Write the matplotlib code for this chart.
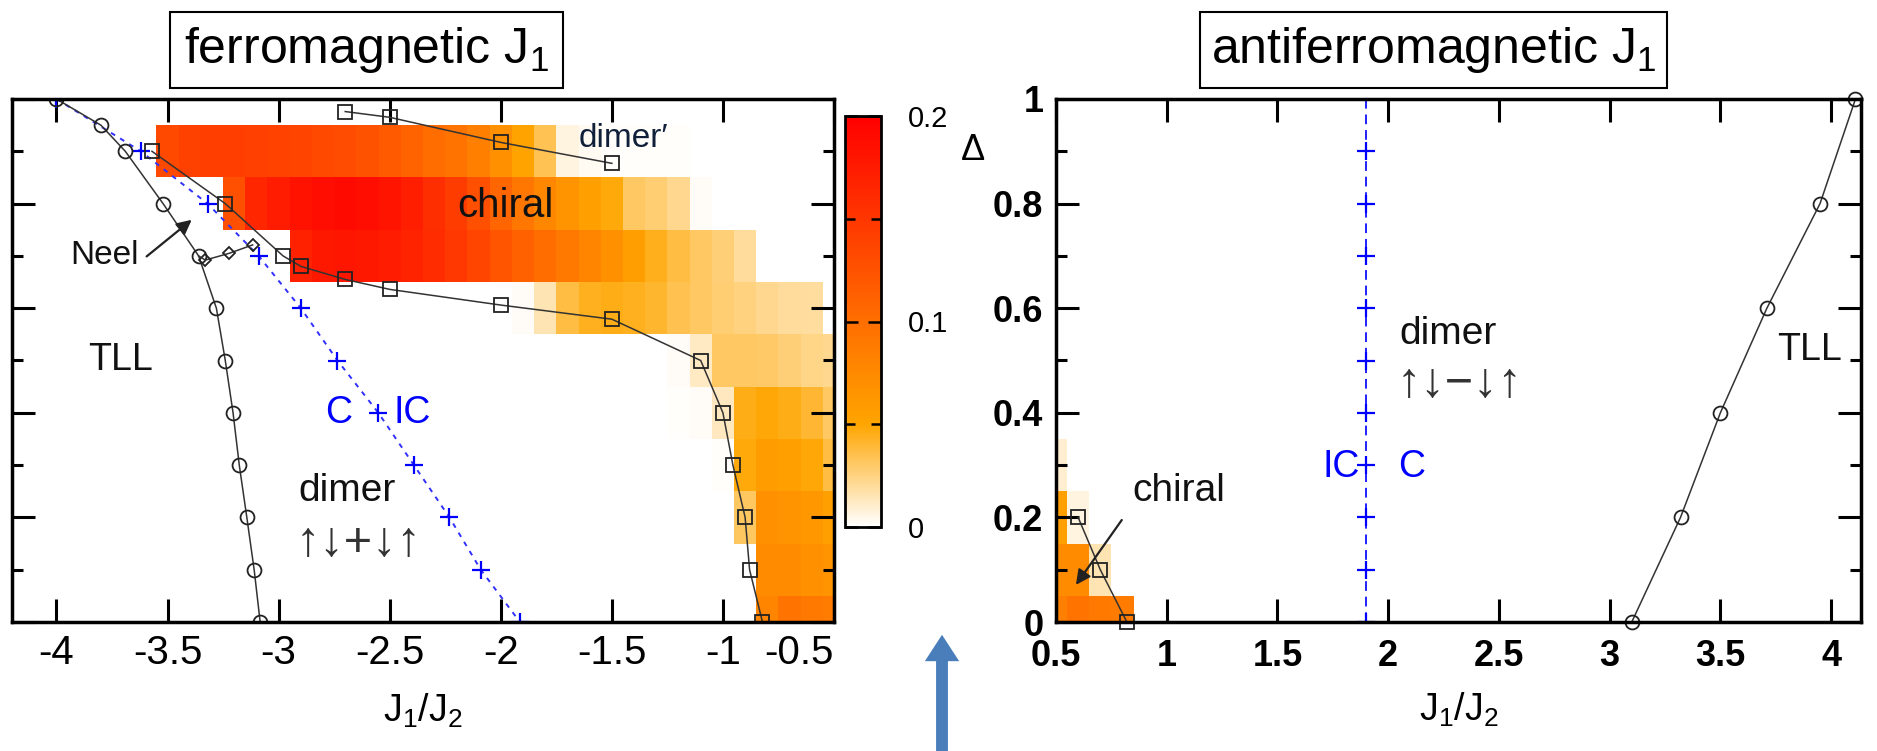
import numpy as np
import matplotlib
matplotlib.use('Agg')
import matplotlib.pyplot as plt
from matplotlib.colors import LinearSegmentedColormap
from matplotlib.patches import Rectangle, FancyArrowPatch
from matplotlib.ticker import MultipleLocator, FixedLocator

plt.rcParams['font.family'] = ['Liberation Sans', 'DejaVu Sans']
plt.rcParams['mathtext.fontset'] = 'custom'
plt.rcParams['mathtext.rm'] = 'Liberation Sans'
plt.rcParams['mathtext.it'] = 'Liberation Sans:italic'

# ---------------- data ----------------
# ferromagnetic side: chirality heat map, rows at Delta = 0.0 ... 0.9
ferro_x_step = 0.1
ferro_x_first = -3.5
ferro_x_last = -0.5
ferro_delta_rows = [0.0, 0.1, 0.2, 0.3, 0.4, 0.5, 0.6, 0.7, 0.8, 0.9]
ferro_row_start = [-0.8, -0.8, -0.9, -1.0, -1.2, -1.2, -1.9, -2.9, -3.2, -3.5]
ferro_row_d00 = [0.080, 0.094, 0.091, 0.087]
ferro_row_d01 = [0.073, 0.073, 0.069, 0.065]
ferro_row_d02 = [0.032, 0.069, 0.065, 0.062, 0.055]
ferro_row_d03 = [0.001, 0.048, 0.058, 0.055, 0.049, 0.037]
ferro_row_d04 = [0.001, 0.002, 0.013, 0.046, 0.049, 0.046, 0.040, 0.031]
ferro_row_d05 = [0.002, 0.012, 0.031, 0.031, 0.030, 0.027, 0.024, 0.022]
ferro_row_d06 = [0.002, 0.0155, 0.037, 0.044, 0.046, 0.044, 0.041, 0.035, 0.031,
                 0.028, 0.025, 0.022, 0.020, 0.019]
ferro_row_d07 = [0.170, 0.178, 0.180, 0.178, 0.175, 0.168, 0.160, 0.150, 0.137,
                 0.124, 0.113, 0.102, 0.091, 0.080, 0.069, 0.057, 0.045, 0.037,
                 0.031, 0.027, 0.020]
ferro_row_d08 = [0.128, 0.165, 0.175, 0.183, 0.188, 0.190, 0.188, 0.182, 0.172,
                 0.158, 0.145, 0.128, 0.108, 0.092, 0.077, 0.065, 0.055, 0.048,
                 0.031, 0.028, 0.022, 0.002]
ferro_row_d09 = [0.135, 0.141, 0.143, 0.143, 0.142, 0.140, 0.138, 0.135, 0.131,
                 0.125, 0.118, 0.110, 0.102, 0.094, 0.085, 0.068, 0.052, 0.034,
                 0.007, 0.0025, 0.0015, 0.001, 0.001, 0.0008]

# antiferromagnetic side heat map
af_x_centers = [0.5, 0.6, 0.7, 0.8]
af_delta_rows = [0.0, 0.1, 0.2, 0.3]
af_row_d00 = [0.084, 0.094, 0.091, 0.087]
af_row_d01 = [0.073, 0.073, 0.015, np.nan]
af_row_d02 = [0.055, 0.007, np.nan, np.nan]
af_row_d03 = [0.010, np.nan, np.nan, np.nan]

# phase boundaries, ferromagnetic J1
tll_f_x = [-4.0, -3.8, -3.69, -3.52, -3.36, -3.28, -3.24, -3.205, -3.177, -3.143, -3.11, -3.083]
tll_f_y = [1.0, 0.95, 0.9, 0.8, 0.7, 0.6, 0.5, 0.4, 0.3, 0.2, 0.1, 0.0]
neel_x = [-3.33, -3.222, -3.117]
neel_y = [0.692, 0.705, 0.721]
chiral_f_x = [-3.57, -3.24, -2.98, -2.9, -2.7, -2.5, -2.0, -1.5, -1.1, -1.0, -0.955, -0.9, -0.88, -0.822]
chiral_f_y = [0.9, 0.8, 0.7, 0.68, 0.655, 0.636, 0.606, 0.579, 0.5, 0.4, 0.3, 0.2, 0.1, 0.0]
dimerp_x = [-2.7, -2.5, -2.0, -1.5]
dimerp_y = [0.976, 0.965, 0.917, 0.877]
cic_f_x = [-4.0, -3.62, -3.32, -3.09, -2.9, -2.735, -2.551, -2.391, -2.231, -2.09, -1.914]
cic_f_y = [1.0, 0.9, 0.8, 0.7, 0.6, 0.5, 0.4, 0.3, 0.2, 0.1, 0.0]

# phase boundaries, antiferromagnetic J1
tll_af_x = [3.1, 3.32, 3.5, 3.71, 3.95, 4.11]
tll_af_y = [0.0, 0.2, 0.4, 0.6, 0.8, 1.0]
chiral_af_x = [0.6, 0.7, 0.82]
chiral_af_y = [0.2, 0.1, 0.0]
cic_af_x = [1.9] * 10
cic_af_y = [0.0, 0.1, 0.2, 0.3, 0.4, 0.5, 0.6, 0.7, 0.8, 0.9]

left_xticks = [-4, -3.5, -3, -2.5, -2, -1.5, -1, -0.5]
left_xticklabels = ['-4', '-3.5', '-3', '-2.5', '-2', '-1.5', '-1', '-0.5']
right_xticks = [0.5, 1, 1.5, 2, 2.5, 3, 3.5, 4]
right_xticklabels = ['0.5', '1', '1.5', '2', '2.5', '3', '3.5', '4']
right_yticks = [0, 0.2, 0.4, 0.6, 0.8, 1.0]
right_yticklabels = ['0', '0.2', '0.4', '0.6', '0.8', '1']
cbar_ticks = [0, 0.1, 0.2]
cbar_ticklabels = ['0', '0.1', '0.2']

# ---------------- figure ----------------
W, H = 1877, 751
fig = plt.figure(figsize=(W / 100, H / 100), dpi=100)

def fx(px):
    return px / W

def fy(py):
    return 1 - py / H

cmap = LinearSegmentedColormap.from_list(
    'chir', [(0.0, '#ffffff'), (0.25, '#ffa500'), (1.0, '#ff0000')])

ax1 = fig.add_axes([fx(12), fy(622), (834 - 12) / W, (622 - 99) / H])
ax2 = fig.add_axes([fx(1056), fy(622), (1861 - 1056) / W, (622 - 99) / H])
cax = fig.add_axes([fx(845), fy(527), 36 / W, (527 - 116) / H])

# heat map left
fx_centers = np.round(np.arange(ferro_x_first, ferro_x_last + 1e-9, ferro_x_step), 3)
Z = np.full((len(ferro_delta_rows), len(fx_centers)), np.nan)
rows = [ferro_row_d00, ferro_row_d01, ferro_row_d02, ferro_row_d03, ferro_row_d04,
        ferro_row_d05, ferro_row_d06, ferro_row_d07, ferro_row_d08, ferro_row_d09]
for r, (start, vals) in enumerate(zip(ferro_row_start, rows)):
    i0 = int(round((start - ferro_x_first) / ferro_x_step))
    Z[r, i0:i0 + len(vals)] = vals
xe = np.append(fx_centers - 0.05, fx_centers[-1] + 0.05)
ye = np.append(np.array(ferro_delta_rows) - 0.05, ferro_delta_rows[-1] + 0.05)
mesh = ax1.pcolormesh(xe, ye, np.ma.masked_invalid(Z), cmap=cmap, vmin=0, vmax=0.2,
                      shading='flat', edgecolors='none', antialiased=False, zorder=0)

# heat map right
Z2 = np.array([af_row_d00, af_row_d01, af_row_d02, af_row_d03])
xe2 = np.append(np.array(af_x_centers) - 0.05, af_x_centers[-1] + 0.05)
ye2 = np.append(np.array(af_delta_rows) - 0.05, af_delta_rows[-1] + 0.05)
ax2.pcolormesh(xe2, ye2, np.ma.masked_invalid(Z2), cmap=cmap, vmin=0, vmax=0.2,
               shading='flat', edgecolors='none', antialiased=False, zorder=0)

lc = '#333333'
mk = dict(mfc='none', mec='#222222', mew=1.3)
# left lines
ax1.plot(cic_f_x, cic_f_y, color='#3030ff', lw=1.4, ls=(0, (2.5, 3)), zorder=2)
ax1.plot(cic_f_x, cic_f_y, ls='none', marker='+', ms=13, mew=1.6, color='#0000ff', zorder=3)
ax1.plot(tll_f_x, tll_f_y, color=lc, lw=1.1, marker='o', ms=10, zorder=4, **mk)
ax1.plot(neel_x, neel_y, color=lc, lw=1.1, marker='D', ms=6, zorder=4, **mk)
ax1.plot([tll_f_x[4], neel_x[0]], [tll_f_y[4], neel_y[0]], color=lc, lw=1.1, zorder=4)
ax1.plot(chiral_f_x, chiral_f_y, color=lc, lw=1.1, marker='s', ms=10, zorder=4, **mk)
ax1.plot(dimerp_x, dimerp_y, color=lc, lw=1.1, marker='s', ms=10, zorder=4, **mk)

# right lines
ax2.plot([1.9, 1.9], [0, 1], color='#2020ff', lw=1.4, ls=(0, (5, 3)), zorder=2)
ax2.plot(cic_af_x, cic_af_y, ls='none', marker='+', ms=13, mew=1.6, color='#0000ff', zorder=3)
ax2.plot(tll_af_x, tll_af_y, color=lc, lw=1.1, marker='o', ms=10, zorder=4, clip_on=False, **mk)
ax2.plot(chiral_af_x, chiral_af_y, color=lc, lw=1.1, marker='s', ms=10, zorder=4, clip_on=False, **mk)

for ax in (ax1, ax2):
    ax.set_ylim(0, 1)
    for s in ax.spines.values():
        s.set_linewidth(2.5)
        s.set_zorder(6)
    ax.yaxis.set_major_locator(MultipleLocator(0.2))
    ax.yaxis.set_minor_locator(MultipleLocator(0.1))
    ax.tick_params(which='both', direction='in', top=True, right=True, width=2.2)
    ax.tick_params(which='major', length=16.5)
    ax.tick_params(which='minor', length=8)

ax1.set_xlim(-4.2, -0.5)
ax1.set_xticks(left_xticks)
ax1.set_xticklabels(left_xticklabels, fontsize=29)
ax1.tick_params(axis='x', pad=9)
ax1.set_yticklabels([])
lbls = ax1.get_xticklabels()
lbls[-1].set_horizontalalignment('right')
ax1.set_xlabel(r'J$_1$/J$_2$', fontsize=27, labelpad=14)

ax2.set_xlim(0.5, 4.135)
ax2.set_xticks(right_xticks)
ax2.set_xticklabels(right_xticklabels, fontsize=26, fontweight='bold')
ax2.set_yticks(right_yticks)
ax2.set_yticklabels(right_yticklabels, fontsize=26, fontweight='bold')
ax2.tick_params(axis='x', pad=12)
ax2.tick_params(axis='y', pad=9)
ax2.set_xlabel(r'J$_1$/J$_2$', fontsize=27, labelpad=12)

# colorbar
cb = fig.colorbar(mesh, cax=cax)
cb.outline.set_linewidth(2)
cax.yaxis.set_major_locator(FixedLocator(cbar_ticks))
cax.yaxis.set_minor_locator(FixedLocator([0.05, 0.15]))
cax.set_yticklabels(cbar_ticklabels, fontsize=21)
cax.tick_params(which='both', direction='in', left=True, right=True, width=1.8)
cax.tick_params(which='major', length=9.5, pad=19)
cax.tick_params(which='minor', length=7)

# texts left
tk = '#111111'
ax1.text(-1.45, 0.925, 'dimer\u2032', fontsize=24, color='#10203a', ha='center', va='center', zorder=7)
ax1.text(-1.98, 0.795, 'chiral', fontsize=29, color=tk, ha='center', va='center', zorder=7)
ax1.text(-3.63, 0.70, 'Neel', fontsize=24, color=tk, ha='right', va='center', zorder=7)
ax1.annotate('', xy=(-3.391, 0.769), xytext=(-3.594, 0.699),
             arrowprops=dict(arrowstyle='-|>', color='#222222', lw=1.6, mutation_scale=22,
                             shrinkA=0, shrinkB=0), zorder=7)
ax1.text(-3.71, 0.50, 'TLL', fontsize=27, color=tk, ha='center', va='center', zorder=7)
ax1.text(-2.73, 0.40, 'C', fontsize=27, color='#0000ff', ha='center', va='center', zorder=7)
ax1.text(-2.40, 0.40, 'IC', fontsize=27, color='#0000ff', ha='center', va='center', zorder=7)
ax1.text(-2.69, 0.25, 'dimer', fontsize=28, color=tk, ha='center', va='center', zorder=7)
ax1.text(-2.64, 0.15, '\u2191\u2193+\u2193\u2191', fontsize=35, color='#333333', ha='center', va='center', zorder=7)

# texts right
ax2.text(2.27, 0.55, 'dimer', fontsize=28, color=tk, ha='center', va='center', zorder=7)
ax2.text(2.324, 0.455, '\u2191\u2193\u2212\u2193\u2191', fontsize=35, color='#333333', ha='center', va='center', zorder=7)
ax2.text(3.904, 0.52, 'TLL', fontsize=27, color=tk, ha='center', va='center', zorder=7)
ax2.text(1.787, 0.296, 'IC', fontsize=27, color='#0000ff', ha='center', va='center', zorder=7)
ax2.text(2.107, 0.296, 'C', fontsize=27, color='#0000ff', ha='center', va='center', zorder=7)
ax2.text(1.055, 0.25, 'chiral', fontsize=28, color=tk, ha='center', va='center', zorder=7)
ax2.annotate('', xy=(0.590, 0.071), xytext=(0.797, 0.195),
             arrowprops=dict(arrowstyle='-|>', color='#222222', lw=1.6, mutation_scale=22,
                             shrinkA=0, shrinkB=0), zorder=7)

# Delta label
fig.text(fx(973), fy(151), '\u0394', fontsize=26, ha='center', va='center')

# title boxes
for (x0, x1, label) in [(170, 563, r'ferromagnetic J$_1$'), (1200, 1667, r'antiferromagnetic J$_1$')]:
    fig.patches.append(Rectangle((fx(x0), fy(88)), (x1 - x0) / W, (88 - 12) / H,
                                 transform=fig.transFigure, fill=True, facecolor='white',
                                 edgecolor='black', lw=1.5))
    fig.text(fx((x0 + x1) / 2), fy(50), label, fontsize=36, ha='center', va='center')

# blue arrow at bottom
arr = FancyArrowPatch((fx(942), fy(760)), (fx(942), fy(632)), transform=fig.transFigure,
                      arrowstyle='simple,head_length=1.0,head_width=1.3,tail_width=0.45',
                      mutation_scale=19, color='#4a7ebb', lw=0)
fig.patches.append(arr)

fig.savefig('out.png', dpi=100)
